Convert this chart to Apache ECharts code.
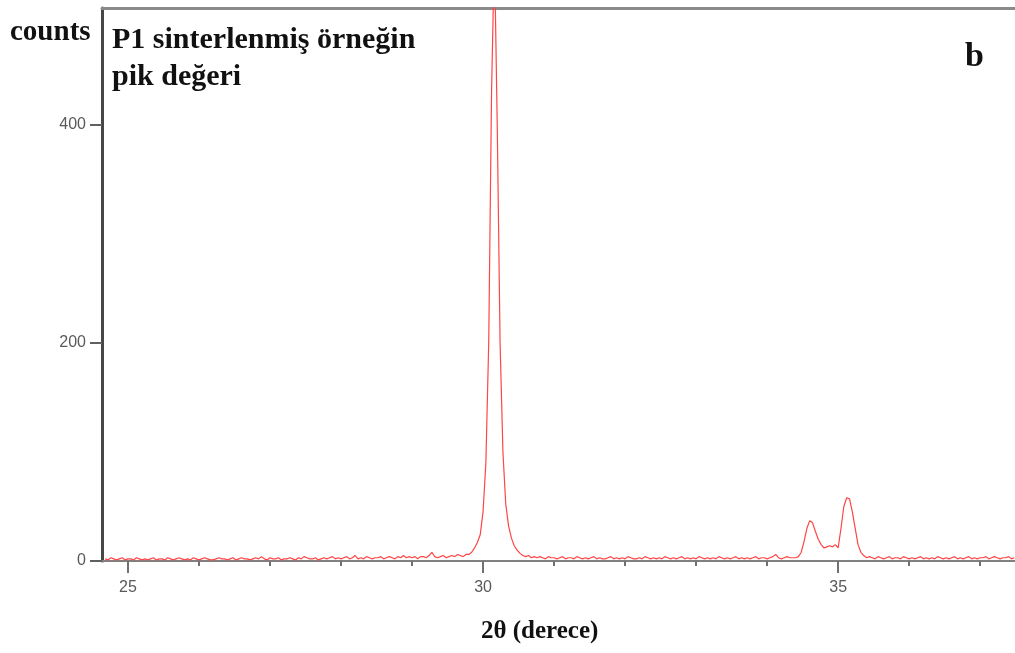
<!DOCTYPE html>
<html>
<head>
<meta charset="utf-8">
<script src="https://cdn.jsdelivr.net/npm/echarts@6/dist/echarts.min.js"></script>
<style>
  html, body { margin: 0; padding: 0; background: #fff; }
  #chart { width: 1015px; height: 653px; }
</style>
</head>
<body>
<div id="chart"></div>
<script>
// step scan: first angle and step (degrees 2θ)
const scanStart = 24.68;
const scanStep = 0.04;

// counts, one per scan step
const counts = [
  2,1,3,2,1,2,3,1,2,2,1,3,2,1,2,1,
  2,3,1,2,2,1,3,2,1,2,3,2,1,2,1,3,
  2,1,2,3,2,1,1,2,3,2,2,1,2,3,1,2,
  3,2,2,1,2,3,2,4,2,1,3,2,2,3,1,2,
  2,3,2,1,3,2,4,3,2,2,3,1,2,3,2,3,
  4,2,3,2,3,4,2,3,5,2,3,2,4,3,2,3,
  3,4,2,3,4,3,2,4,3,5,3,4,3,4,2,4,
  4,3,5,8,4,3,4,5,3,4,5,4,6,5,4,6,
  // main reflection ~30.16
  6,8,12,17,24,45,90,200,430,560,400,200,100,52,32,21,14,10,7,5,
  4,5,3,4,3,4,3,2,4,3,3,2,3,4,2,3,
  3,2,4,3,2,3,2,3,4,2,3,2,2,3,4,2,
  3,2,3,2,4,3,2,2,3,2,4,3,2,3,2,3,
  2,4,3,2,3,2,3,4,2,3,2,3,2,4,3,2,
  3,2,3,2,4,3,2,3,2,3,4,2,3,2,3,2,
  3,4,2,3,3,2,3,4,6,3,2,3,4,3,3,
  // doublet ~34.6 / 35.15
  3,4,8,18,30,37,35,27,20,15,12,13,14,13,15,12,30,50,58,57,45,30,15,8,5,3,
  4,3,2,4,3,2,3,4,2,3,3,2,4,3,2,3,
  2,3,4,2,3,2,3,2,4,3,2,3,2,3,4,2,
  3,2,3,4,2,3,2,3,3,4,2,3,4,3,2,3,
  3,4,2,3
];

const xMin = 24.635;
const xMax = 37.49;
const yMax = 507;
const xMajor = [25, 30, 35];
const xMinor = [26, 27, 28, 29, 31, 32, 33, 34, 36, 37];
const yMajor = [0, 200, 400];

const points = counts.map((c, i) => [+(scanStart + i * scanStep).toFixed(2), c]);

const chart = echarts.init(document.getElementById('chart'));
const gridBox = { left: 102, right: 0, top: 8, bottom: 92 };
const tickFont = { fontFamily: 'Liberation Sans', fontSize: 16, color: '#5a5a5a' };
const serifBold = 'Liberation Serif';

chart.setOption({
  backgroundColor: '#fff',
  animation: false,
  grid: [
    Object.assign({}, gridBox),
    Object.assign({}, gridBox)
  ],
  xAxis: [
    {
      type: 'value', gridIndex: 0, position: 'bottom',
      min: xMin, max: xMax,
      axisLine: { lineStyle: { color: '#808080', width: 2 } },
      axisTick: { customValues: xMajor, length: 12, lineStyle: { color: '#707070', width: 2 } },
      axisLabel: Object.assign({ customValues: xMajor, margin: 19 }, tickFont),
      splitLine: { show: false }
    },
    {
      // top frame line
      type: 'value', gridIndex: 0, position: 'top',
      min: xMin, max: xMax,
      axisLine: { lineStyle: { color: '#8a8a8a', width: 3 } },
      axisTick: { show: false },
      axisLabel: { show: false },
      splitLine: { show: false }
    },
    {
      // minor ticks every degree
      type: 'value', gridIndex: 1, position: 'bottom',
      min: xMin, max: xMax,
      axisLine: { show: false },
      axisTick: { customValues: xMinor, length: 5, lineStyle: { color: '#707070', width: 2 } },
      axisLabel: { show: false },
      splitLine: { show: false }
    }
  ],
  yAxis: [
    {
      type: 'value', gridIndex: 0,
      min: 0, max: yMax,
      axisLine: { show: true, lineStyle: { color: '#474747', width: 3 } },
      axisTick: { show: true, customValues: yMajor, length: 12, lineStyle: { color: '#606060', width: 2 } },
      axisLabel: Object.assign({ customValues: yMajor, margin: 16 }, tickFont),
      splitLine: { show: false }
    },
    {
      type: 'value', gridIndex: 1, min: 0, max: yMax, show: false
    }
  ],
  series: [
    {
      type: 'line',
      xAxisIndex: 0, yAxisIndex: 0,
      data: points,
      symbol: 'none',
      clip: true,
      lineStyle: { color: '#ff4545', width: 1.2 }
    }
  ],
  graphic: [
    {
      type: 'text', left: 10, top: 18,
      style: { text: 'counts', font: 'bold 29px "' + serifBold + '"', fill: '#111' }
    },
    {
      type: 'text', left: 112, top: 22,
      style: { text: 'P1 sinterlenmiş örneğin\npik değeri', font: 'bold 30px "' + serifBold + '"', fill: '#111', lineHeight: 37 }
    },
    {
      type: 'text', left: 965, top: 40,
      style: { text: 'b', font: 'bold 34px "' + serifBold + '"', fill: '#111' }
    },
    {
      type: 'text', left: 481, top: 619,
      style: { text: '2θ (derece)', font: 'bold 25px "' + serifBold + '"', fill: '#111' }
    }
  ]
});
</script>
</body>
</html>
